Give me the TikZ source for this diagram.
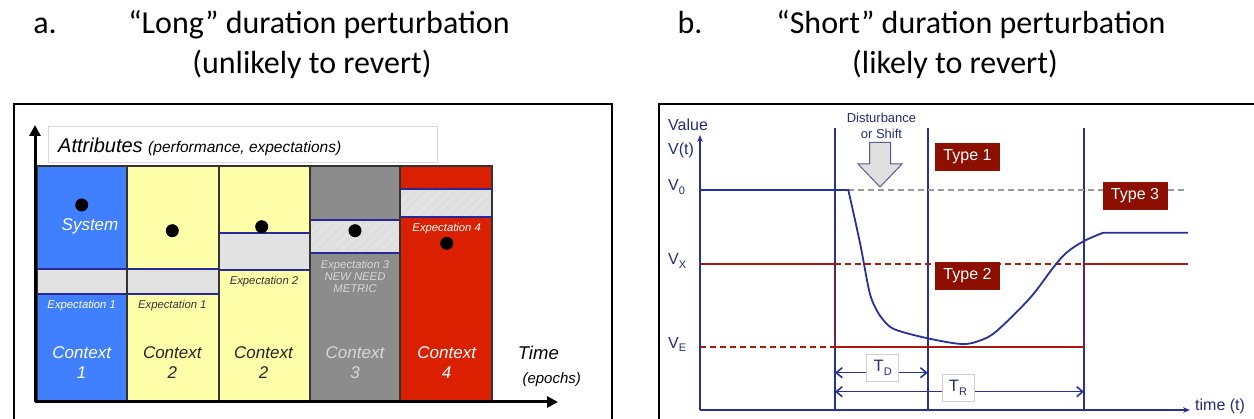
\documentclass[tikz,border=0pt]{standalone}
\usepackage{fontspec}
\setmainfont{Liberation Sans}
\newfontfamily\titlefont{Carlito}
\usetikzlibrary{arrows.meta,patterns.meta}

\definecolor{ctxblue}{RGB}{64,128,255}
\definecolor{ctxyellow}{RGB}{255,255,170}
\definecolor{ctxgray}{RGB}{140,140,140}
\definecolor{ctxred}{RGB}{218,32,0}
\definecolor{bandgray}{RGB}{226,226,226}
\definecolor{bandedge}{RGB}{40,40,150}
\definecolor{navy}{RGB}{40,50,150}
\definecolor{navytext}{RGB}{35,45,120}
\definecolor{valred}{RGB}{170,25,15}
\definecolor{typered}{RGB}{140,15,0}
\definecolor{lighttext}{RGB}{215,215,215}

\newcommand\dropsub[1]{\lower3.5pt\hbox{\fontsize{11}{11}\selectfont #1}}

\begin{document}
\begin{tikzpicture}[x=1pt,y=-1pt,
  titletext/.style={font=\titlefont\fontsize{32}{38}\selectfont, anchor=base, inner sep=0pt},
  column/.style={draw=black!80, line width=1.5pt},
  band/.style={fill=bandgray, draw=bandedge, line width=1.3pt},
  hatched/.style={pattern={Lines[angle=45,distance=7pt,line width=2.2pt]}, pattern color=white!87!black},
  dot/.style={fill=black},
  ctxlabel/.style={font=\itshape\fontsize{17}{20}\selectfont, align=center, inner sep=0pt},
  explabel/.style={font=\itshape\fontsize{11.3}{12}\selectfont, align=center, inner sep=0pt},
  bigaxis/.style={line width=3pt, -{Triangle[length=11pt,width=11pt]}},
  valaxis/.style={navy, line width=1.8pt, -{Stealth[length=7pt,width=5.5pt]}},
  guide/.style={navy, line width=1.8pt},
  redline/.style={valred, line width=1.8pt},
  reddash/.style={valred, line width=1.6pt, dash pattern=on 6pt off 4pt},
  typebox/.style={fill=typered, text=white, font=\fontsize{16}{18}\selectfont, minimum width=65pt, minimum height=28pt, inner sep=0pt},
  spanarrow/.style={navy, line width=1.6pt, {Straight Barb[length=6pt,width=10pt,line width=1.6pt]}-{Straight Barb[length=6pt,width=10pt,line width=1.6pt]}},
  spanbox/.style={fill=white, draw=black!18, line width=0.8pt, font=\fontsize{16.5}{18}\selectfont, text=navytext, minimum width=32pt, minimum height=27pt, inner sep=0pt},
  valtext/.style={text=navytext, font=\fontsize{16}{18}\selectfont, inner sep=0pt}
]
\useasboundingbox (0,0) rectangle (1254,419);
\fill[white] (0,0) rectangle (1254,419);
\begin{scope}
\clip (0,0) rectangle (1254,419);

% ---------------- headings ----------------
\node[titletext] (ha) at (45,34) {a.};
\node[titletext] (ha1) at (319,34) {“Long” duration perturbation};
\node[titletext] (ha2) at (312,74) {(unlikely to revert)};
\node[titletext] (hb) at (690,34) {b.};
\node[titletext] (hb1) at (971,34) {“Short” duration perturbation};
\node[titletext] (hb2) at (955,74) {(likely to revert)};

% ---------------- panel a: contexts over epochs ----------------
\draw[line width=2pt] (14,440) -- (14,104) -- (612,104) -- (612,440);

\draw[draw=black!15, fill=white] (48,126) rectangle (437,162);
\node[anchor=base west, inner sep=0pt] (attr) at (58,152.5)
  {\itshape\fontsize{20}{22}\selectfont Attributes \fontsize{15.5}{17}\selectfont(performance, expectations)};

% context columns
\fill[ctxblue]   (37,166) rectangle (127,402);
\fill[ctxyellow] (127,166) rectangle (219,402);
\fill[ctxyellow] (219,166) rectangle (310,402);
\fill[ctxgray]   (310,166) rectangle (400,402);
\fill[ctxred]    (400,166) rectangle (492,402);

% expectation bands
\draw[band] (37,269) rectangle (127,294);
\draw[band] (127,269) rectangle (219,294);
\draw[band] (219,233) rectangle (310,270);
\fill[bandgray] (310,220) rectangle (400,253);
\fill[hatched] (310,220) rectangle (400,253);
\draw[bandedge, line width=1.3pt] (310,220) rectangle (400,253);
\fill[bandgray] (400,189) rectangle (492,217);
\fill[hatched] (400,189) rectangle (492,217);
\draw[bandedge, line width=1.3pt] (400,189) rectangle (492,217);

% column outlines
\draw[column] (37,166) rectangle (127,402);
\draw[column] (127,166) rectangle (219,402);
\draw[column] (219,166) rectangle (310,402);
\draw[column] (310,166) rectangle (400,402);
\draw[column] (400,166) rectangle (492,402);

% system attribute points
\fill[dot] (81.7,205) circle (6.5);
\fill[dot] (172.3,230.7) circle (6.5);
\fill[dot] (261.7,226.7) circle (6.5);
\fill[dot] (355,230.7) circle (6.5);
\fill[dot] (446.7,243.3) circle (6.5);

% labels in the columns
\node[ctxlabel, text=white] (sys) at (90,226.7) {System};
\node[explabel, text=white] (e1a) at (81.7,305.7) {Expectation 1};
\node[explabel, text=black!80] (e1b) at (172.3,305.7) {Expectation 1};
\node[explabel, text=black!80] (e2) at (264,281.7) {Expectation 2};
\node[explabel, text=lighttext] (e3) at (355,276) {Expectation 3\\NEW NEED\\METRIC};
\node[explabel, text=white] (e4) at (446.7,228.3) {Expectation 4};

\node[ctxlabel, text=white] (c1) at (81.7,363) {Context\\1};
\node[ctxlabel, text=black!85] (c2a) at (172.3,363) {Context\\2};
\node[ctxlabel, text=black!85] (c2b) at (263.5,363) {Context\\2};
\node[ctxlabel, text=lighttext] (c3) at (355,363) {Context\\3};
\node[ctxlabel, text=white] (c4) at (446.7,363) {Context\\4};

% axes
\coordinate (aorig) at (35,402);
\coordinate (atop) at (35,125);
\coordinate (aright) at (558,402);
\draw[bigaxis] (aorig) -- (atop);
\draw[bigaxis] (aorig) -- (aright);
\node[inner sep=0pt, font=\itshape\fontsize{18.5}{20}\selectfont] (time) at (538.3,353.3) {Time};
\node[inner sep=0pt, font=\itshape\fontsize{15}{17}\selectfont] (epochs) at (551.7,380) {(epochs)};

% ---------------- panel b: value over time ----------------
\draw[line width=2.5pt] (659,440) -- (659,104) -- (1260,104);

% guide lines at disturbance start, end and recovery
\draw[guide] (835,128) -- (835,410);
\draw[guide] (927.7,128) -- (927.7,410);
\draw[guide] (1084,128) -- (1084,410);

% value levels
\draw[gray!80, line width=1.3pt, dash pattern=on 6pt off 4pt] (848.3,190) -- (1188,190);
\draw[redline] (700,264) -- (835,264);
\draw[reddash] (835,264) -- (1084,264);
\draw[redline] (1084,264) -- (1188,264);
\draw[reddash] (700,347.3) -- (835,347.3);
\draw[redline] (835,347.3) -- (1084,347.3);
\draw[valred, line width=1.8pt, opacity=0.5] (835,264) -- (835,347.3);
\draw[valred, line width=1.8pt, opacity=0.5] (1084,264) -- (1084,347.3);

% value trajectory
\draw[navy, line width=1.8pt] (700,190) -- (848.3,190)
  -- plot[smooth, tension=0.55] coordinates {(848.3,190) (860,243) (869,290) (875,307) (883.3,320) (895,329.5) (927.7,338.3) (961.7,344) (980,340.5) (996.7,331) (1030,298) (1053.3,267.5) (1066.7,252.5) (1084,241) (1103.3,232.7)}
  -- (1188,232.7);

% axes
\coordinate (borig) at (700,410);
\coordinate (btop) at (700,135);
\coordinate (bright) at (1190,410);
\draw[valaxis] (borig) -- (btop);
\draw[valaxis] (borig) -- (bright);

\node[valtext, anchor=west] (value) at (668,125) {Value};
\node[valtext, anchor=west] (vt) at (668,150) {V(t)};
\node[valtext, anchor=west] (v0) at (668,187) {V\dropsub{0}};
\node[valtext, anchor=west] (vx) at (668,261) {V\dropsub{X}};
\node[valtext, anchor=west] (ve) at (668,344.3) {V\dropsub{E}};
\node[valtext, anchor=west] (tt) at (1195,406.7) {time (t)};

% disturbance arrow
\draw[fill=gray!25, draw=navy!45!gray, line width=1pt]
  (869.5,142.5) -- (890.5,142.5) -- (890.5,164) -- (902,164) -- (880,187)
  -- (858,164) -- (869.5,164) -- cycle;
\node[text=navytext, font=\fontsize{13}{15.5}\selectfont, align=center, inner sep=0pt] (dist) at (881.5,126) {Disturbance\\or Shift};

% perturbation types
\node[typebox] (t1) at (967.5,156.7) {Type 1};
\node[typebox] (t2) at (967.5,276) {Type 2};
\node[typebox] (t3) at (1135,196) {Type 3};

% durations
\coordinate (tdl) at (835,372.7);
\coordinate (tdr) at (927.7,372.7);
\coordinate (trl) at (835,391.7);
\coordinate (trr) at (1084,391.7);
\draw[spanarrow] (tdl) -- (tdr);
\draw[spanarrow] (trl) -- (trr);
\node[spanbox] (td) at (882.7,368) {T\dropsub{D}};
\node[spanbox] (tr) at (958,388) {T\dropsub{R}};
\end{scope}
\end{tikzpicture}
\end{document}
